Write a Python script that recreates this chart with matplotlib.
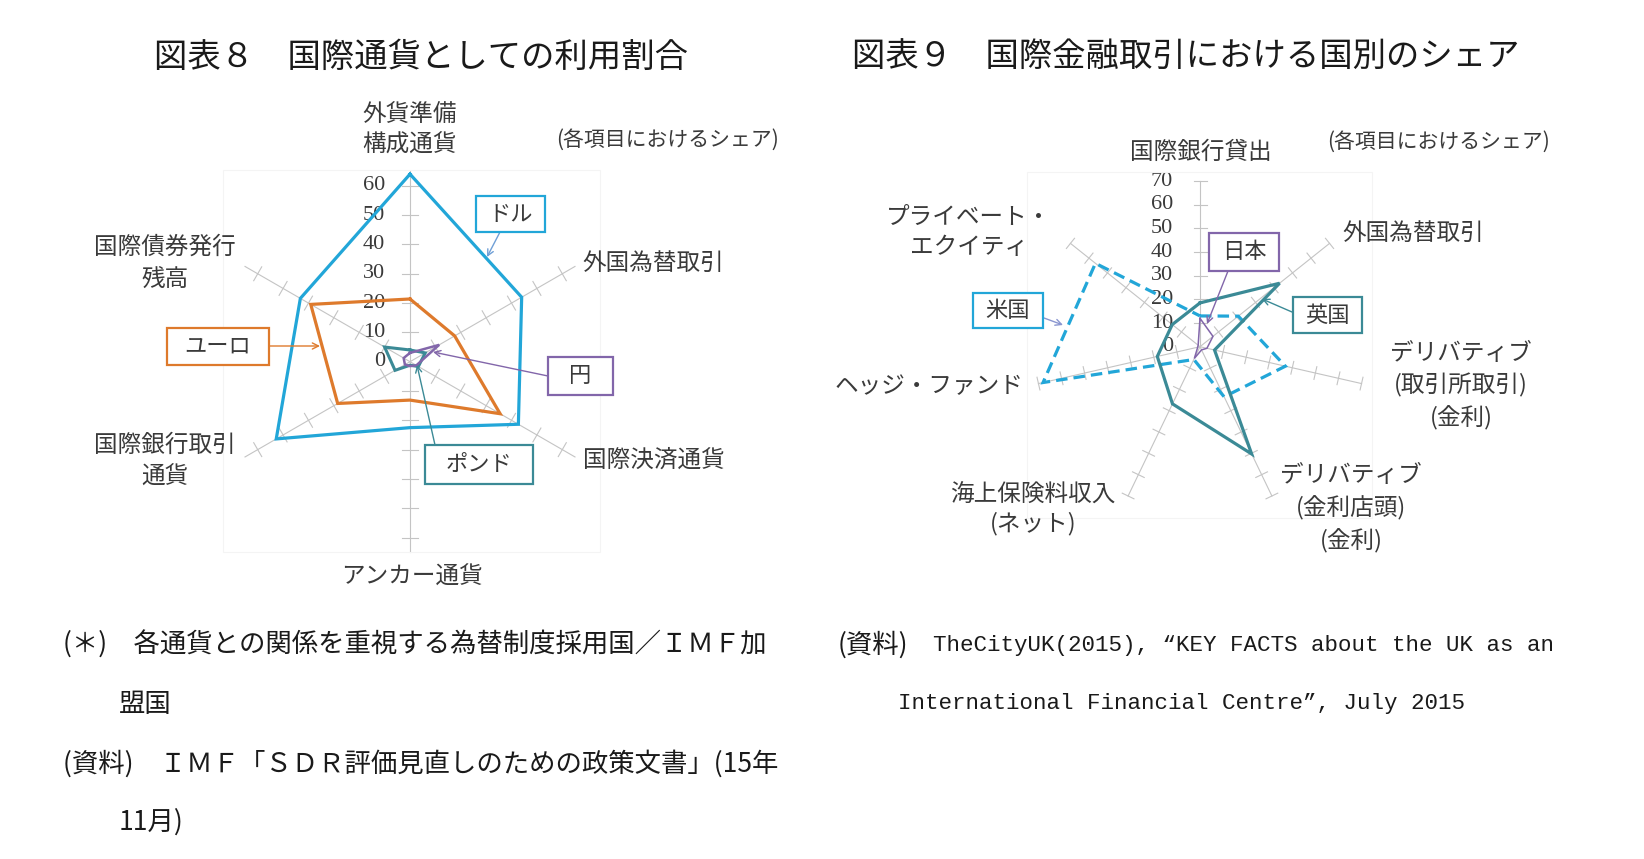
"""
plot.py - 図表8 / 図表9 radar charts (国際通貨 / 国際金融取引のシェア).
"""
import numpy as np
import matplotlib
matplotlib.use("Agg")
import matplotlib.pyplot as plt
from matplotlib.patches import Rectangle

plt.rcParams["font.family"] = ["Noto Sans CJK JP", "DejaVu Sans"]

# ---------------------------------------------------------------------------
# Data
# ---------------------------------------------------------------------------
# 図表8: clockwise from the top
currency_axes = ["外貨準備構成通貨", "外国為替取引", "国際決済通貨",
                 "アンカー通貨", "国際銀行取引通貨", "国際債券発行残高"]
dollar = [64.0, 44.0, 42.7, 22.5, 52.7, 43.2]
euro = [21.4, 17.6, 35.5, 13.1, 28.5, 39.1]
pound = [4.0, 6.0, 3.3, 1.2, 5.9, 10.0]
yen = [3.0, 11.5, 2.5, 1.5, 2.0, 2.5]
ticks8 = [0, 10, 20, 30, 40, 50, 60]
rmax8 = 65

# 図表9: clockwise from the top
market_axes = ["国際銀行貸出", "外国為替取引", "デリバティブ(取引所取引)(金利)",
               "デリバティブ(金利店頭)(金利)", "海上保険料収入(ネット)",
               "ヘッジ・ファンド", "プライベート・エクイティ"]
us = [13.0, 20.7, 37.0, 23.5, 6.0, 68.0, 56.5]
uk = [18.5, 43.0, 6.3, 50.3, 26.8, 18.5, 15.0]
japan = [12.0, 7.0, 3.0, 1.5, 5.5, 1.0, 1.0]
ticks9 = [0, 10, 20, 30, 40, 50, 60, 70]
rmax9 = 70

# ---------------------------------------------------------------------------
# Styles / layout (pixels of the 1644x859 canvas)
# ---------------------------------------------------------------------------
W, H = 1644, 859
C_BLUE = "#22a6d8"
C_ORANGE = "#de7a2c"
C_TEAL = "#3b8a96"
C_PURPLE = "#8266aa"
C_GRID = "#c4c4c4"
C_TEXT = "#3a3a3a"
SERIF = ["Liberation Serif", "DejaVu Serif"]
MONO = ["Liberation Mono", "Noto Sans CJK JP"]

fig = plt.figure(figsize=(W / 100, H / 100), dpi=100)
fig.patch.set_facecolor("white")


def make_radar(cx, cy, radius, rmax):
    ax = fig.add_axes([(cx - radius) / W, 1 - (cy + radius) / H,
                       2 * radius / W, 2 * radius / H], projection="polar")
    ax.set_theta_zero_location("N")
    ax.set_theta_direction(-1)
    ax.set_ylim(0, rmax)
    ax.set_axis_off()
    ax.patch.set_alpha(0)
    return ax


def draw_frame(ax, n, ticks, rmax, radius, tick_half_px, label_off):
    thetas = np.linspace(0, 2 * np.pi, n, endpoint=False)
    h = tick_half_px / (radius / rmax)
    for th in thetas:
        ax.plot([th, th], [0, rmax], color=C_GRID, lw=0.8, zorder=1,
                clip_on=False)
        for t in ticks[1:]:
            dth = np.arctan(h / t)
            rr = np.hypot(t, h)
            ax.plot([th - dth, th + dth], [rr, rr], color=C_GRID, lw=0.8,
                    zorder=1, clip_on=False)
    for t in ticks:
        ax.annotate(str(t), xy=(0, t), xytext=(-label_off, 0),
                    textcoords="offset pixels", ha="right", va="center",
                    family=SERIF, fontsize=16, color=C_TEXT)
    return thetas


def draw_series(ax, thetas, values, color, lw, ls="-"):
    th = np.append(thetas, thetas[0])
    v = np.append(values, values[0])
    ax.plot(th, v, color=color, lw=lw, ls=ls, zorder=3, clip_on=False,
            solid_joinstyle="miter", dash_joinstyle="miter")


# --- 図表8 ---
R8 = 190.5
ax8 = make_radar(410, 361.7, R8, rmax8)
th8 = draw_frame(ax8, len(currency_axes), ticks8, rmax8, R8, 8, 25)
draw_series(ax8, th8, dollar, C_BLUE, 2.3)
draw_series(ax8, th8, euro, C_ORANGE, 2.3)
draw_series(ax8, th8, pound, C_TEAL, 2.2)
draw_series(ax8, th8, yen, C_PURPLE, 1.8)

# --- 図表9 ---
R9 = 165.7
ax9 = make_radar(1200, 346.7, R9, rmax9)
th9 = draw_frame(ax9, len(market_axes), ticks9, rmax9, R9, 6.5, 27)
draw_series(ax9, th9, us, C_BLUE, 2.3, ls=(0, (3.6, 1.9)))
draw_series(ax9, th9, uk, C_TEAL, 2.3)
draw_series(ax9, th9, japan, C_PURPLE, 1.1)

# ---------------------------------------------------------------------------
# Overlay: titles, labels, callout boxes, notes
# ---------------------------------------------------------------------------
ov = fig.add_axes([0, 0, 1, 1], zorder=5)
ov.set_xlim(0, W)
ov.set_ylim(H, 0)
ov.set_axis_off()
ov.patch.set_alpha(0)

# faint plot-area borders
for x0, y0, x1, y1 in [(223, 170, 600, 552), (1027, 172, 1372, 518)]:
    ov.add_patch(Rectangle((x0, y0), x1 - x0, y1 - y0, fill=False,
                           edgecolor="#f4f4f4", lw=0.8))

ov.text(154, 57, "図表８　国際通貨としての利用割合", fontsize=24,
        color="#1a1a1a", ha="left", va="center")
ov.text(852, 57, "図表９　国際金融取引における国別のシェア", fontsize=24,
        color="#1a1a1a", ha="left", va="center")


def label(x, y, lines, ha="center", pitch=31, size=17):
    for i, s in enumerate(lines):
        ov.text(x, y + i * pitch, s, fontsize=size, color=C_TEXT, ha=ha,
                va="center")


# 図表8 axis labels
label(410, 115, ["外貨準備", "構成通貨"], pitch=30)
label(582, 263, ["外国為替取引"], ha="left")
label(583, 460, ["国際決済通貨"], ha="left")
label(412, 577, ["アンカー通貨"])
label(165, 445, ["国際銀行取引", "通貨"], pitch=32)
label(165, 247, ["国際債券発行", "残高"], pitch=33)
label(556, 140, ["(各項目におけるシェア)"], ha="left", size=15)

# 図表9 axis labels
label(1201, 152, ["国際銀行貸出"])
label(1342, 233, ["外国為替取引"], ha="left")
label(1461, 353, ["デリバティブ", "(取引所取引)", "(金利)"], pitch=32)
label(1351, 475, ["デリバティブ", "(金利店頭)", "(金利)"], pitch=32.5)
label(1033, 495, ["海上保険料収入", "(ネット)"], pitch=29)
label(1023, 387, ["ヘッジ・ファンド"], ha="right")
label(969, 217, ["プライベート・", "エクイティ"], pitch=31)
label(1327, 142, ["(各項目におけるシェア)"], ha="left", size=15)


def callout(box, text, color, start, end, arrow_color=None):
    x0, y0, x1, y1 = box
    ov.annotate("", xy=end, xytext=start,
                arrowprops=dict(arrowstyle="->", color=arrow_color or color,
                                lw=1.0, shrinkA=0, shrinkB=0,
                                mutation_scale=11))
    ov.add_patch(Rectangle((x0, y0), x1 - x0, y1 - y0, facecolor="white",
                           edgecolor=color, lw=1.6, zorder=4))
    ov.text((x0 + x1) / 2, (y0 + y1) / 2, text, fontsize=16, color=C_TEXT,
            ha="center", va="center", zorder=5)


callout((476, 196, 545, 232), "ドル", C_BLUE, (500, 232), (487, 257),
        "#6f9fd6")
callout((167, 328, 269, 365), "ユーロ", C_ORANGE, (269, 346), (320, 346))
callout((548, 357, 613, 395), "円", C_PURPLE, (548, 376), (433, 352))
callout((425, 445, 533, 484), "ポンド", C_TEAL, (435, 445), (417, 365))
callout((973, 293, 1043, 328), "米国", C_BLUE, (1044, 318), (1063, 325),
        "#8a96d0")
callout((1209, 233, 1279, 271), "日本", C_PURPLE, (1228, 271), (1207, 324))
callout((1293, 297, 1362, 333), "英国", C_TEAL, (1292, 312), (1262, 299))

# notes
NOTE = 19
ov.text(63, 645, "(＊)　各通貨との関係を重視する為替制度採用国／ＩＭＦ加",
        fontsize=NOTE, color="#1a1a1a", ha="left", va="center")
ov.text(119, 704, "盟国", fontsize=NOTE, color="#1a1a1a", ha="left",
        va="center")
ov.text(63, 764, "(資料)　ＩＭＦ「ＳＤＲ評価見直しのための政策文書」(15年",
        fontsize=NOTE, color="#1a1a1a", ha="left", va="center")
ov.text(119, 822, "11月)", fontsize=NOTE, color="#1a1a1a", ha="left",
        va="center")

ov.text(838, 645, "(資料)", fontsize=NOTE, color="#1a1a1a", ha="left",
        va="center")
ov.text(933, 645, "TheCityUK(2015), “KEY FACTS about the UK as an",
        family=MONO, fontsize=16.2, color="#1a1a1a", ha="left", va="center")
ov.text(898, 704, "International Financial Centre”, July 2015",
        family=MONO, fontsize=16.2, color="#1a1a1a", ha="left", va="center")

fig.savefig("out.png", dpi=100, facecolor="white")
